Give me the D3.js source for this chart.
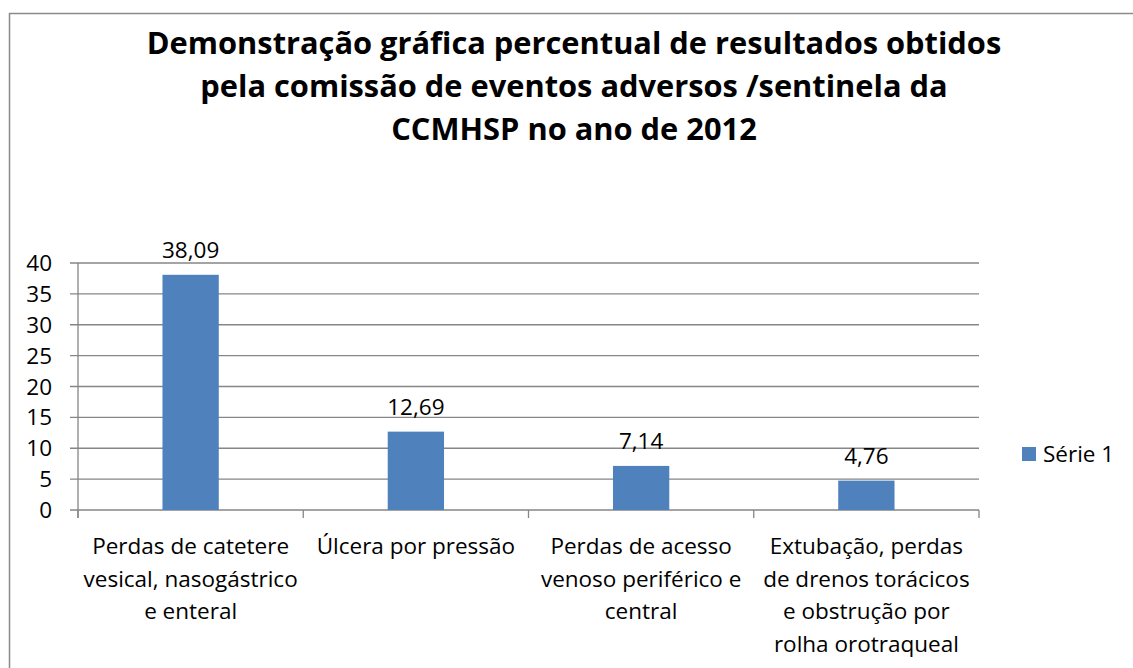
<!DOCTYPE html>
<html>
<head>
<meta charset="utf-8">
<script src="https://cdn.jsdelivr.net/npm/d3@7"></script>
<style>
  html, body { margin: 0; padding: 0; background: #fff; }
  svg { display: block; font-family: "Open Sans", Lato, sans-serif; }
</style>
</head>
<body>
<svg id="chart" width="1133" height="668"></svg>
<script>
// Chart data
const titleLines = [
  "Demonstração gráfica percentual de resultados obtidos",
  "pela comissão de eventos adversos /sentinela da",
  "CCMHSP no ano de 2012"
];
const categories = [
  "Perdas de catetere vesical, nasogástrico e enteral",
  "Úlcera por pressão",
  "Perdas de acesso venoso periférico e central",
  "Extubação, perdas de drenos torácicos e obstrução por rolha orotraqueal"
];
const categoryLines = [
  ["Perdas de catetere", "vesical, nasogástrico", "e enteral"],
  ["Úlcera por pressão"],
  ["Perdas de acesso", "venoso periférico e", "central"],
  ["Extubação, perdas", "de drenos torácicos", "e obstrução por", "rolha orotraqueal"]
];
const values = [38.09, 12.69, 7.14, 4.76];
const valueLabels = ["38,09", "12,69", "7,14", "4,76"];
const yTicks = [0, 5, 10, 15, 20, 25, 30, 35, 40];
const seriesName = "Série 1";

const barColor = "#4F81BD";
const gridColor = "#868686";
const labelSize = 22.5;

const svg = d3.select("#chart");

// Outer chart frame
svg.append("rect")
  .attr("x", 9.5).attr("y", 13.5)
  .attr("width", 1200).attr("height", 700)
  .attr("fill", "#fff")
  .attr("stroke", "#8a8a8a").attr("stroke-width", 1.5);

// Title
svg.append("text")
  .attr("x", 574).attr("y", 54)
  .attr("text-anchor", "middle")
  .attr("font-weight", "bold")
  .attr("font-size", 30.8)
  .attr("fill", "#000")
  .selectAll("tspan")
  .data(titleLines)
  .join("tspan")
  .attr("x", 574)
  .attr("dy", (d, i) => i === 0 ? 0 : 43)
  .text(d => d);

// Plot area bounds
const plotLeft = 78, plotRight = 979, plotTop = 263, plotBottom = 510;

const x = d3.scaleBand()
  .domain(categories)
  .range([plotLeft, plotRight])
  .paddingInner(0.75)
  .paddingOuter(0.375);

const xCells = d3.scaleBand()
  .domain(categories)
  .range([plotLeft, plotRight])
  .padding(0);

const y = d3.scaleLinear()
  .domain([0, 40])
  .range([plotBottom, plotTop]);

// Horizontal gridlines with outward ticks
svg.append("g")
  .selectAll("line")
  .data(yTicks)
  .join("line")
  .attr("x1", plotLeft - 8).attr("x2", plotRight)
  .attr("y1", d => y(d)).attr("y2", d => y(d))
  .attr("stroke", gridColor).attr("stroke-width", 1.3);

// Y axis line
svg.append("line")
  .attr("x1", plotLeft).attr("x2", plotLeft)
  .attr("y1", y(40)).attr("y2", plotBottom + 8)
  .attr("stroke", gridColor).attr("stroke-width", 1.3);

// Y tick labels
svg.append("g")
  .selectAll("text")
  .data(yTicks)
  .join("text")
  .attr("x", plotLeft - 26)
  .attr("y", d => y(d))
  .attr("dy", "0.36em")
  .attr("text-anchor", "end")
  .attr("font-size", labelSize)
  .attr("fill", "#000")
  .text(d => d);

// X axis tick marks at category boundaries
const boundaries = categories.map(c => xCells(c)).concat([plotRight]);
svg.append("g")
  .selectAll("line")
  .data(boundaries)
  .join("line")
  .attr("x1", d => d).attr("x2", d => d)
  .attr("y1", plotBottom).attr("y2", plotBottom + 8)
  .attr("stroke", gridColor).attr("stroke-width", 1.3);

// Bars
svg.append("g")
  .selectAll("rect")
  .data(values)
  .join("rect")
  .attr("x", (d, i) => x(categories[i]))
  .attr("width", x.bandwidth())
  .attr("y", d => y(d))
  .attr("height", d => plotBottom - y(d))
  .attr("fill", barColor);

// Value labels
svg.append("g")
  .selectAll("text")
  .data(values)
  .join("text")
  .attr("x", (d, i) => x(categories[i]) + x.bandwidth() / 2)
  .attr("y", d => y(d) - 17)
  .attr("text-anchor", "middle")
  .attr("font-size", labelSize)
  .attr("fill", "#000")
  .text((d, i) => valueLabels[i]);

// Category labels
const catG = svg.append("g");
categories.forEach((c, i) => {
  const cx = xCells(c) + xCells.bandwidth() / 2;
  catG.append("text")
    .attr("x", cx).attr("y", 554)
    .attr("text-anchor", "middle")
    .attr("font-size", labelSize)
    .attr("fill", "#000")
    .selectAll("tspan")
    .data(categoryLines[i])
    .join("tspan")
    .attr("x", cx)
    .attr("dy", (d, j) => j === 0 ? 0 : 32.5)
    .text(d => d);
});

// Legend
const legend = svg.append("g");
legend.append("rect")
  .attr("x", 1022).attr("y", 447)
  .attr("width", 14).attr("height", 14)
  .attr("fill", barColor);
legend.append("text")
  .attr("x", 1043).attr("y", 454)
  .attr("dy", "0.36em")
  .attr("font-size", labelSize)
  .attr("fill", "#000")
  .text(seriesName);
</script>
</body>
</html>
